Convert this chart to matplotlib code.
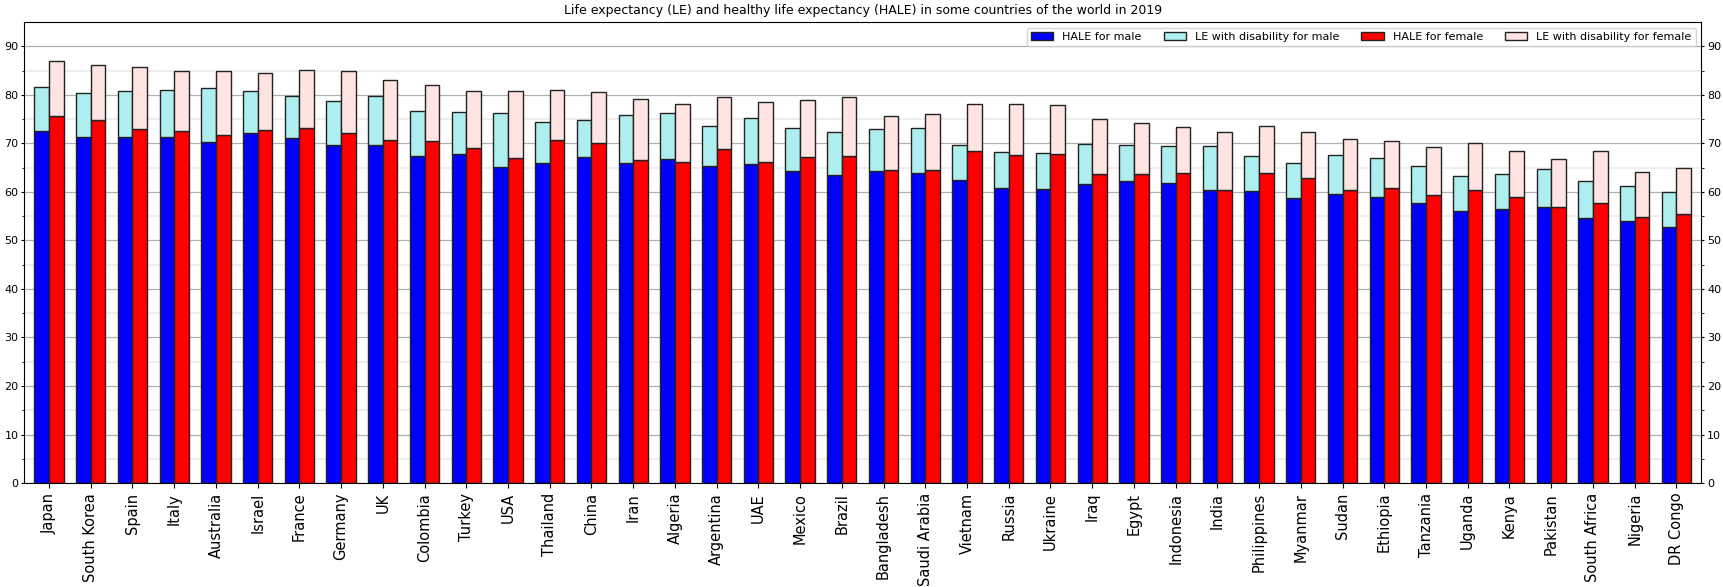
import matplotlib
matplotlib.use("Agg")
import matplotlib.pyplot as plt
import numpy as np

countries = ['Japan', 'South Korea', 'Spain', 'Italy', 'Australia', 'Israel', 'France',
             'Germany', 'UK', 'Colombia', 'Turkey', 'USA', 'Thailand', 'China', 'Iran',
             'Algeria', 'Argentina', 'UAE', 'Mexico', 'Brazil', 'Bangladesh', 'Saudi Arabia',
             'Vietnam', 'Russia', 'Ukraine', 'Iraq', 'Egypt', 'Indonesia', 'India',
             'Philippines', 'Myanmar', 'Sudan', 'Ethiopia', 'Tanzania', 'Uganda', 'Kenya',
             'Pakistan', 'South Africa', 'Nigeria', 'DR Congo']

# healthy life expectancy and total life expectancy, years
hale_male = [72.5, 71.3, 71.3, 71.3, 70.3, 72.1, 71.1, 69.7, 69.7, 67.4, 67.8, 65.1, 66.0,
             67.2, 66.0, 66.8, 65.3, 65.8, 64.3, 63.5, 64.3, 63.9, 62.5, 60.8, 60.6, 61.6,
             62.2, 61.8, 60.3, 60.1, 58.7, 59.5, 58.9, 57.7, 56.0, 56.4, 56.8, 54.6, 54.0, 52.7]
le_male = [81.6, 80.3, 80.8, 81.0, 81.4, 80.8, 79.7, 78.7, 79.7, 76.6, 76.4, 76.2, 74.4,
           74.8, 75.8, 76.2, 73.6, 75.2, 73.2, 72.3, 72.9, 73.2, 69.7, 68.2, 68.0, 69.9,
           69.7, 69.5, 69.5, 67.3, 65.9, 67.5, 66.9, 65.3, 63.2, 63.6, 64.7, 62.2, 61.2, 59.9]
hale_female = [75.6, 74.8, 72.9, 72.5, 71.7, 72.7, 73.2, 72.1, 70.7, 70.5, 69.0, 67.0, 70.7,
               70.1, 66.6, 66.2, 68.8, 66.2, 67.2, 67.4, 64.5, 64.5, 68.4, 67.6, 67.8, 63.6,
               63.6, 63.8, 60.3, 63.8, 62.8, 60.3, 60.8, 59.3, 60.3, 58.9, 56.8, 57.7, 54.8, 55.4]
le_female = [86.9, 86.1, 85.7, 84.9, 84.9, 84.5, 85.1, 84.9, 83.0, 82.0, 80.8, 80.8, 81.0,
             80.5, 79.1, 78.1, 79.5, 78.5, 78.9, 79.5, 75.6, 76.0, 78.1, 78.1, 77.9, 75.0,
             74.2, 73.4, 72.3, 73.6, 72.3, 70.9, 70.5, 69.2, 70.0, 68.4, 66.7, 68.4, 64.0, 64.9]

x = np.arange(len(countries))
w = 0.35
hm = np.array(hale_male)
hf = np.array(hale_female)
dm = np.array(le_male) - hm
df = np.array(le_female) - hf

fig = plt.figure(figsize=(17.24, 5.87), dpi=100)
ax = fig.add_axes([0.0139, 0.177, 0.973, 0.7855])

ax.bar(x - w / 2, hm, w, color='blue', edgecolor='#222222', label='HALE for male')
ax.bar(x - w / 2, dm, w, bottom=hm, color='paleturquoise', edgecolor='#222222',
       label='LE with disability for male')
ax.bar(x + w / 2, hf, w, color='red', edgecolor='#222222', label='HALE for female')
ax.bar(x + w / 2, df, w, bottom=hf, color='mistyrose', edgecolor='#222222',
       label='LE with disability for female')

ax.set_xlim(-0.6, 39.6)
ax.set_ylim(0, 95)
ax.set_xticks(x)
ax.set_xticklabels(countries, rotation=90, fontsize=10.5)
ax.set_yticks(np.arange(0, 91, 10))
ax.set_yticks(np.arange(0, 95, 5), minor=True)
ax.tick_params(axis='y', labelsize=8, length=2.5, pad=1.5, right=True, labelright=True)
ax.tick_params(axis='y', which='minor', length=1.8, right=True)
ax.set_axisbelow(True)
ax.grid(axis='y', which='major', color='#b0b0b0', linewidth=0.9)
ax.grid(axis='y', which='minor', color='#eeeeee', linewidth=1.5)

ax.set_title('Life expectancy (LE) and healthy life expectancy (HALE) in some countries of the world in 2019',
             fontsize=9)
ax.legend(loc='upper right', ncol=4, fontsize=8)

fig.savefig('out.png', dpi=100)
